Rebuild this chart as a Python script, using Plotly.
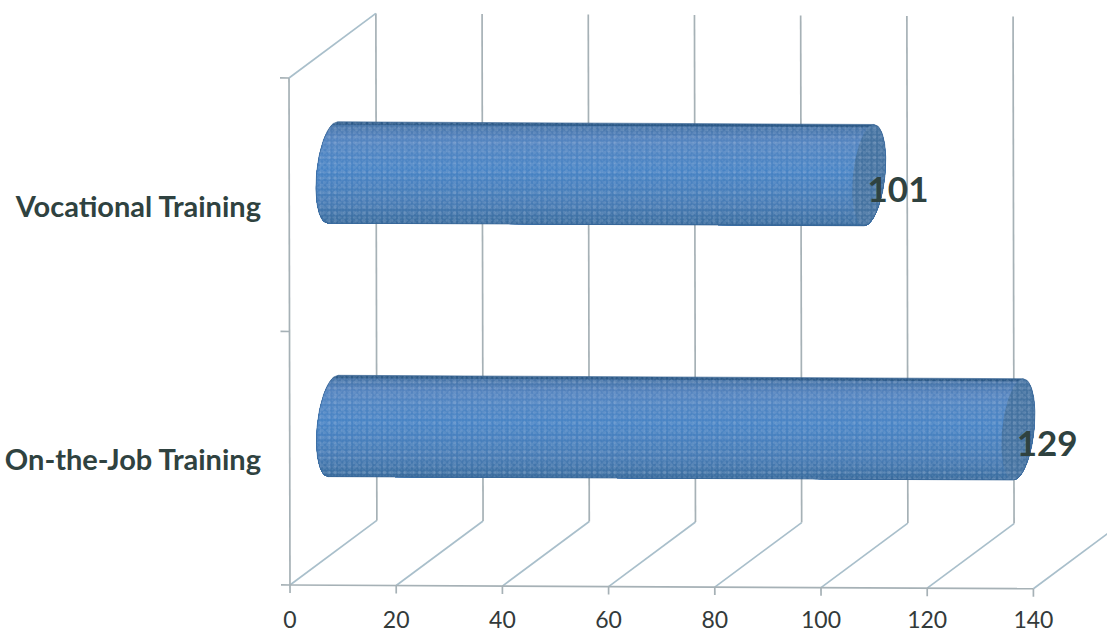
import numpy as np
import plotly.graph_objects as go

categories = ["On-the-Job Training", "Vocational Training"]
values = [129, 101]
x_ticks = [0, 20, 40, 60, 80, 100, 120, 140]

# Geometry of the pseudo-3D box, in axis units
PX_X, PX_Y = 5.31, 253.5
DX, DY = 87 / PX_X, 65 / PX_Y
R, A, SHEAR = 0.2, 16 / PX_X, 5 / PX_X
LBL_DX, LBL_DY = 29 / PX_X, -18 / PX_Y

GRID_V = "#a6b1b6"
GRID_D = "#a9bfcb"
RAMP = [(-1.0, (44, 92, 140)), (-0.93, (58, 110, 160)), (-0.6, (70, 122, 178)),
        (0.1, (72, 132, 198)), (0.7, (84, 132, 192)), (0.95, (70, 116, 168)), (1.0, (42, 88, 134))]
SPECKLE = [(".", 3, 0.30, "rgba(190,206,232,0.22)"),
           (".", 5, 0.30, "rgba(186,204,230,0.32)"),
           (".", 7, 0.25, "rgba(200,214,236,0.30)")]


def warp(x, y):
    x, y = np.asarray(x, float), np.asarray(y, float)
    return x - 0.094 * y, y - 0.005 * x * PX_X / PX_Y


def ramp(v):
    vs = [r[0] for r in RAMP]
    c = [np.interp(v, vs, [r[1][i] for r in RAMP]) for i in range(3)]
    return "rgb(%d,%d,%d)" % tuple(c)


fig = go.Figure()


def line(xs, ys, color, w=1.7):
    px, py = warp(xs, ys)
    fig.add_trace(go.Scatter(x=px, y=py, mode="lines", line=dict(color=color, width=w),
                             hoverinfo="skip", showlegend=False))


# Back wall and floor
for t in x_ticks:
    line([t, t + DX], [0, DY], GRID_D)
    if t < x_ticks[-1]:
        line([t + DX, t + DX], [DY, 2 + DY], GRID_V)
    line([t, t], [0, -8 / PX_Y], GRID_V)
# Side wall and front axis
line([0, 0], [0, 2], GRID_V)
line([0, DX], [2, 2 + DY], GRID_D)
line([x_ticks[0], x_ticks[-1]], [0, 0], GRID_V)
for k in (0, 1, 2):
    line([-9 / PX_X, 0], [k, k], GRID_V)


def edge(v, cx, side):
    """x position of the end ellipse at height v (-1..1)."""
    return cx + side * A * np.sqrt(np.clip(1 - v * v, 0, 1)) + SHEAR * v


for i, val in enumerate(values):
    cy = i + 0.5 + DY / 2
    x0, x1 = DX / 2, val + DX / 2
    vv = np.linspace(-1, 1, 61)
    sil_x = np.r_[edge(vv, x0, -1), edge(vv[::-1], x1, 1)]
    sil_y = np.r_[cy + R * vv, cy + R * vv[::-1]]
    # horizontal shading, painted top to bottom so no seams appear
    for b in np.linspace(1, -1, 36)[:-1]:
        vb = np.linspace(-1, b, 50)
        bx = np.r_[edge(vb, x0, -1), edge(vb[::-1], x1, 1)]
        by = np.r_[cy + R * vb, cy + R * vb[::-1]]
        px, py = warp(bx, by)
        fig.add_trace(go.Scatter(x=px, y=py, mode="lines", fill="toself", fillcolor=ramp(b),
                                 line=dict(width=0), hoverinfo="skip", showlegend=False))
    # end cap
    tt = np.linspace(0, 2 * np.pi, 90)
    cap_x = x1 + A * np.cos(tt) + SHEAR * np.sin(tt)
    cap_y = cy + R * np.sin(tt)
    px, py = warp(cap_x, cap_y)
    fig.add_trace(go.Scatter(x=px, y=py, mode="lines", fill="toself", fillcolor="#43719f",
                             line=dict(width=0), hoverinfo="skip", showlegend=False))
    # speckle layers and outline
    px, py = warp(np.r_[sil_x, sil_x[0]], np.r_[sil_y, sil_y[0]])
    for shape, size, sol, col in SPECKLE:
        fig.add_trace(go.Scatter(x=px, y=py, mode="lines", fill="toself",
                                 fillpattern=dict(shape=shape, size=size, solidity=sol,
                                                  fgcolor=col, bgcolor="rgba(0,0,0,0)"),
                                 fillcolor="rgba(0,0,0,0)",
                                 line=dict(width=0), hoverinfo="skip", showlegend=False))
    fig.add_trace(go.Scatter(x=px, y=py, mode="lines",
                             line=dict(color="rgba(52,98,146,0.75)", width=0.8),
                             hoverinfo="skip", showlegend=False))

# Value labels
lx, ly = warp([v + DX / 2 + LBL_DX for v in values],
              [i + 0.5 + DY / 2 + LBL_DY for i in range(len(values))])
fig.add_trace(go.Scatter(x=lx, y=ly, mode="text", text=[str(v) for v in values],
                         textposition="middle center",
                         textfont=dict(family="Lato", size=35, color="#2f4240", weight=700),
                         hoverinfo="skip", showlegend=False))

W, H = 1107, 633
L, B = 262, 35
fig.update_layout(
    width=W, height=H, margin=dict(l=L, r=0, t=0, b=B, pad=0),
    paper_bgcolor="white", plot_bgcolor="white", showlegend=False,
    xaxis=dict(range=[(L - 290) / PX_X, (W - 290) / PX_X], tickvals=x_ticks, automargin=False,
               ticktext=[str(t) for t in x_ticks], showgrid=False, zeroline=False, showline=False,
               ticks="outside", ticklen=1, tickcolor="rgba(0,0,0,0)",
               tickfont=dict(family="Lato", size=23, color="#333a3a")),
    yaxis=dict(range=[(585 - (H - B)) / PX_Y, 585 / PX_Y], tickvals=[0.492, 1.492], ticktext=categories,
               automargin=False, showgrid=False, zeroline=False, showline=False,
               ticks="", tickfont=dict(family="Lato", size=29, color="#2f4240", weight=700)),
)
fig.write_html("out.html", config=dict(displayModeBar=False),
               post_script="document.body.style.margin='0';")
